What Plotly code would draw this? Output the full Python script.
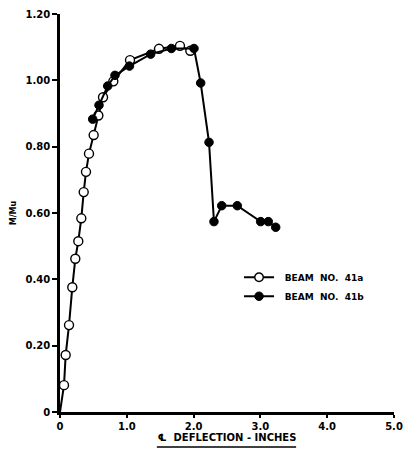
import plotly.graph_objects as go

# Beam No. 41a (open circles)
x_41a = [0.0, 0.06, 0.085, 0.135, 0.184, 0.229, 0.274, 0.319, 0.355, 0.389, 0.434, 0.504,
         0.574, 0.644, 0.798, 1.048, 1.482, 1.796, 1.951]
y_41a = [0.0, 0.081, 0.172, 0.262, 0.376, 0.462, 0.515, 0.584, 0.663, 0.724, 0.779, 0.835,
         0.894, 0.949, 0.997, 1.061, 1.095, 1.104, 1.089]

# Beam No. 41b (filled circles)
x_41b = [0.489, 0.584, 0.714, 0.823, 1.04, 1.357, 1.667, 2.006, 2.106, 2.231, 2.305,
         2.421, 2.654, 3.004, 3.118, 3.229]
y_41b = [0.883, 0.925, 0.983, 1.015, 1.043, 1.079, 1.096, 1.096, 0.992, 0.813, 0.574,
         0.622, 0.622, 0.574, 0.574, 0.557]

x_ticks = [0, 1, 2, 3, 4, 5]
x_tick_labels = ["<b>0</b>", "<b>1.0</b>", "<b>2.0</b>", "<b>3.0</b>", "<b>4.0</b>", "<b>5.0</b>"]
y_ticks = [0, 0.2, 0.4, 0.6, 0.8, 1.0, 1.2]
y_tick_labels = ["<b>0</b>", "<b>0.20</b>", "<b>0.40</b>", "<b>0.60</b>", "<b>0.80</b>",
                 "<b>1.00</b>", "<b>1.20</b>"]

FONT = "DejaVu Sans"
NB = "\u00a0"

fig = go.Figure()
sizes_a = [0] + [9] * (len(x_41a) - 1)
fig.add_trace(go.Scatter(
    x=x_41a, y=y_41a, mode="lines+markers", name=NB * 2 + "<b>BEAM  NO.  41a</b>",
    line=dict(color="black", width=2),
    marker=dict(symbol="circle", size=sizes_a, color="white", opacity=1,
                line=dict(color="black", width=1.4)),
))
fig.add_trace(go.Scatter(
    x=x_41b, y=y_41b, mode="lines+markers", name=NB * 2 + "<b>BEAM  NO.  41b</b>",
    line=dict(color="black", width=2),
    marker=dict(symbol="circle", size=8.5, color="black", opacity=1,
                line=dict(color="black", width=1)),
))

fig.update_layout(
    width=406, height=454,
    margin=dict(l=60, r=12, t=14, b=42, autoexpand=False),
    paper_bgcolor="white", plot_bgcolor="white",
    font=dict(family=FONT, size=9, color="black"),
    showlegend=True,
    legend=dict(x=0.536, y=0.375, xanchor="left", yanchor="top",
                bgcolor="rgba(0,0,0,0)", font=dict(family=FONT, size=9, color="black"),
                itemwidth=30, tracegroupgap=0),
    xaxis=dict(range=[0, 5.0], tickvals=x_ticks, ticktext=x_tick_labels, automargin=False,
               showgrid=False, zeroline=False, showline=True, linecolor="black", linewidth=2.5,
               ticks="outside", ticklen=3, tickwidth=1.5, tickcolor="black",
               tickfont=dict(family=FONT, size=10, color="black"),
               title=dict(text="<b>℄  DEFLECTION - INCHES</b>", standoff=2,
                          font=dict(family=FONT, size=10, color="black"))),
    yaxis=dict(range=[0, 1.2], tickvals=y_ticks, ticktext=y_tick_labels, automargin=False,
               showgrid=False, zeroline=False, showline=True, linecolor="black", linewidth=2.5,
               ticks="outside", ticklen=5, tickwidth=1.5, tickcolor="black",
               tickfont=dict(family=FONT, size=10, color="black"),
               title=dict(text="<b>M/Mu</b>", standoff=8,
                          font=dict(family=FONT, size=8, color="black"))),
)
fig.add_shape(type="line", xref="paper", yref="paper", x0=0.29, x1=0.707, y0=-0.088, y1=-0.088,
              line=dict(color="black", width=1.5))

fig.write_html("out.html", config={"displayModeBar": False},
               post_script="document.body.style.margin='0';document.body.style.overflow='hidden';")
